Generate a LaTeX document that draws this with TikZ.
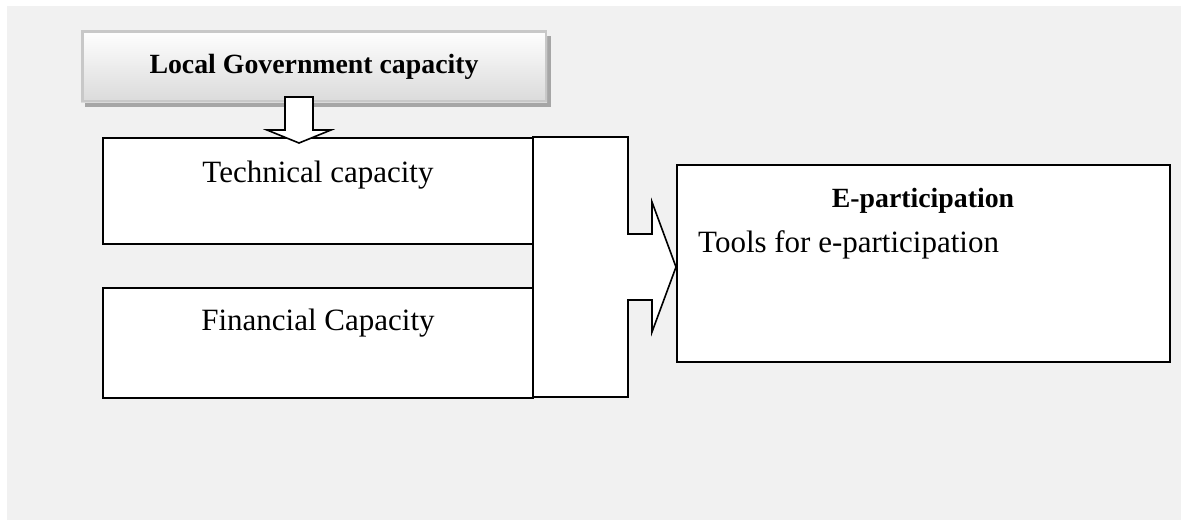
\documentclass[tikz,border=0pt]{standalone}
\usepackage{fontspec}
\setmainfont{Liberation Serif}
\definecolor{bggray}{HTML}{F1F1F1}
\definecolor{lgborder}{HTML}{C8C8C8}
\definecolor{lgshadow}{HTML}{A6A6A6}
\definecolor{lgbottom}{HTML}{DADADA}
\begin{document}
\begin{tikzpicture}[x=1pt,y=-1pt,
  boxline/.style={draw=black,line width=1.6pt,fill=white,line join=miter},
  regtext/.style={font=\fontsize{31}{36}\selectfont,inner sep=0pt},
  boldtext/.style={font=\fontsize{27.8}{32}\selectfont\bfseries,inner sep=0pt}]
\useasboundingbox (0,0) rectangle (1181,520);
\fill[white] (0,0) rectangle (1181,520);
\fill[bggray] (7,6) rectangle (1181,520);
% Local government box
\fill[lgshadow] (85,36) rectangle (551,107);
\shade[top color=white,bottom color=lgbottom] (81,30) rectangle (547,102);
\draw[lgborder,line width=2.5pt] (82.25,31.25) rectangle (545.75,100.75);
\node[boldtext,anchor=base] (lgc) at (314,73) {Local Government capacity};
% Technical and financial boxes
\draw[boxline] (103,138) rectangle (533,244);
\node[regtext,anchor=base] (tech) at (318,182) {Technical capacity};
\draw[boxline] (103,288) rectangle (533,398);
\node[regtext,anchor=base] (fin) at (318,330) {Financial Capacity};
% down block arrow
\draw[boxline] (285,97) -- (313,97) -- (313,130) -- (331,130) -- (299,143) -- (267,130) -- (285,130) -- cycle;
% big right block arrow
\draw[boxline] (533,137) -- (628,137) -- (628,234) -- (652,234) -- (652,202) -- (676,267) -- (652,332) -- (652,300) -- (628,300) -- (628,397) -- (533,397) -- cycle;
% E-participation box
\draw[boxline] (677,165) rectangle (1170,362);
\node[boldtext,anchor=base] (ep) at (923,207) {E-participation};
\node[regtext,anchor=base west] (tools) at (698,252) {Tools for e-participation};
\end{tikzpicture}
\end{document}
